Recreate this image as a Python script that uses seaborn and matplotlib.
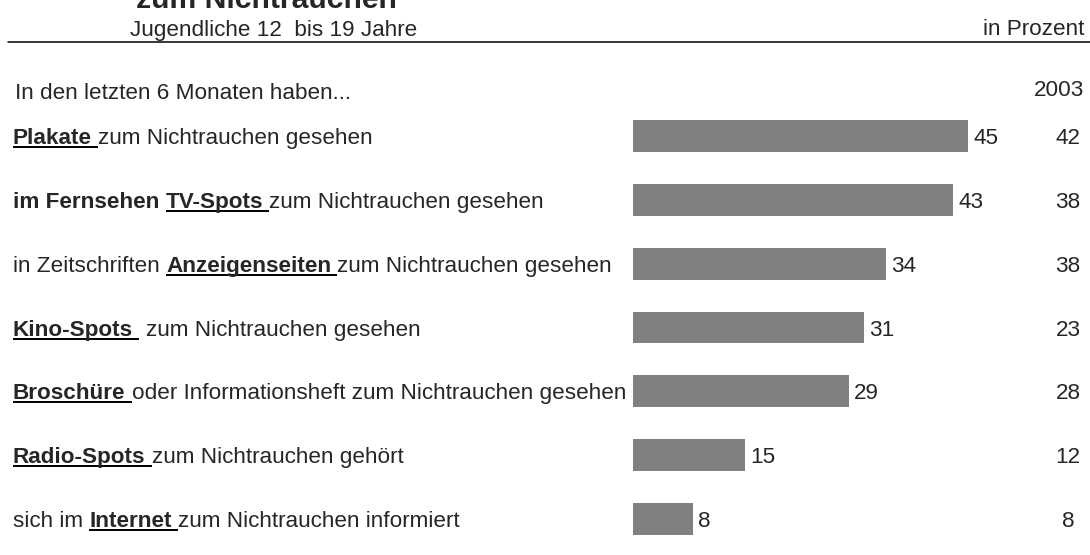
import matplotlib
matplotlib.use("Agg")
import matplotlib.pyplot as plt
import matplotlib.transforms as mtransforms
from matplotlib.lines import Line2D
import pandas as pd
import seaborn as sns

# Row labels as pieces: (text, bold, underlined)
label_parts = [
    [("Plakate ", True, True), ("zum Nichtrauchen gesehen", False, False)],
    [("im Fernsehen ", True, False), ("TV-Spots ", True, True), ("zum Nichtrauchen gesehen", False, False)],
    [("in Zeitschriften ", False, False), ("Anzeigenseiten ", True, True), ("zum Nichtrauchen gesehen", False, False)],
    [("Kino-Spots ", True, True), (" zum Nichtrauchen gesehen", False, False)],
    [("Broschüre ", True, True), ("oder Informationsheft zum Nichtrauchen gesehen", False, False)],
    [("Radio-Spots ", True, True), ("zum Nichtrauchen gehört", False, False)],
    [("sich im ", False, False), ("Internet ", True, True), ("zum Nichtrauchen informiert", False, False)],
]
categories = ["".join(p[0] for p in parts) for parts in label_parts]
values_current = [45, 43, 34, 31, 29, 15, 8]
values_2003 = [42, 38, 38, 23, 28, 12, 8]

title_text = "zum Nichtrauchen"
subtitle_text = "Jugendliche 12  bis 19 Jahre"
unit_text = "in Prozent"
intro_text = "In den letzten 6 Monaten haben..."
compare_year = "2003"

W, H = 1090, 555
FS = 16.2
BAR_COLOR = "#808080"

sns.set_theme(style="white")
plt.rcParams["font.family"] = ["Liberation Sans", "DejaVu Sans"]

fig = plt.figure(figsize=(W / 100, H / 100), dpi=100)
fig.patch.set_facecolor("white")

bar_left = 633
px_per_unit = 7.45
row_top, row_bottom = 104, 551
ax = fig.add_axes([bar_left / W, 1 - row_bottom / H,
                   (W - bar_left) / W, (row_bottom - row_top) / H])

df = pd.DataFrame({"Kategorie": categories, "Anteil": values_current})
sns.barplot(data=df, x="Anteil", y="Kategorie", orient="h", color=BAR_COLOR,
            saturation=1, width=0.5, linewidth=0, ax=ax)
ax.set_xlim(0, (W - bar_left) / px_per_unit)
ax.set_ylim(len(categories) - 0.5, -0.5)
ax.axis("off")

ident = mtransforms.IdentityTransform()
renderer = fig.canvas.get_renderer()
cap_half = 0.716 * FS * 100 / 72 / 2


def text_width(s, weight):
    t = fig.text(0, 0, s, fontsize=FS, weight=weight, transform=ident)
    w = t.get_window_extent(renderer).width
    t.remove()
    return w


space_w = {w: text_width("a a", w) - text_width("aa", w) for w in ("normal", "bold")}

# value labels right of the bars and the comparison column
base_shift = mtransforms.ScaledTranslation(0, -cap_half / 100, fig.dpi_scale_trans)
val_tf = ax.transData + mtransforms.ScaledTranslation(5 / 100, -cap_half / 100, fig.dpi_scale_trans)
col_tf = mtransforms.blended_transform_factory(ident, ax.transData) + base_shift
for i, (v, v03) in enumerate(zip(values_current, values_2003)):
    ax.text(v, i, str(v), transform=val_tf, ha="left", va="baseline", fontsize=FS)
    ax.text(1068, i, str(v03), transform=col_tf, ha="center", va="baseline", fontsize=FS)

# mixed bold / underlined row labels
for i, parts in enumerate(label_parts):
    yc = ax.transData.transform((0, i))[1]
    yb = yc - cap_half
    x = 13
    for text, bold, under in parts:
        weight = "bold" if bold else "normal"
        core = text.strip(" ")
        lead = len(text) - len(text.lstrip(" "))
        trail = len(text) - len(text.rstrip(" "))
        x0 = x
        x += lead * space_w[weight]
        t = fig.text(x, yb, core, fontsize=FS, weight=weight, transform=ident,
                     ha="left", va="baseline")
        x += t.get_window_extent(renderer).width + trail * space_w[weight]
        if under:
            fig.add_artist(Line2D([x0, x], [yb - 3, yb - 3], transform=ident,
                                  color="black", lw=1.4, solid_capstyle="butt"))

# header
fig.text(266, H - 8, title_text, fontsize=21.7, weight="bold", transform=ident,
         ha="center", va="baseline")
fig.text(274, H - 28 - cap_half, subtitle_text, fontsize=FS, transform=ident,
         ha="center", va="baseline")
fig.text(1084, H - 27 - cap_half, unit_text, fontsize=FS, transform=ident,
         ha="right", va="baseline")
fig.add_artist(Line2D([8, W], [H - 42, H - 42], transform=ident, color="black", lw=1.1))
fig.text(15, H - 91 - cap_half, intro_text, fontsize=FS, transform=ident,
         ha="left", va="baseline")
fig.text(1084, H - 88 - cap_half, compare_year, fontsize=FS, transform=ident,
         ha="right", va="baseline")

fig.savefig("out.png", dpi=100, facecolor="white")
